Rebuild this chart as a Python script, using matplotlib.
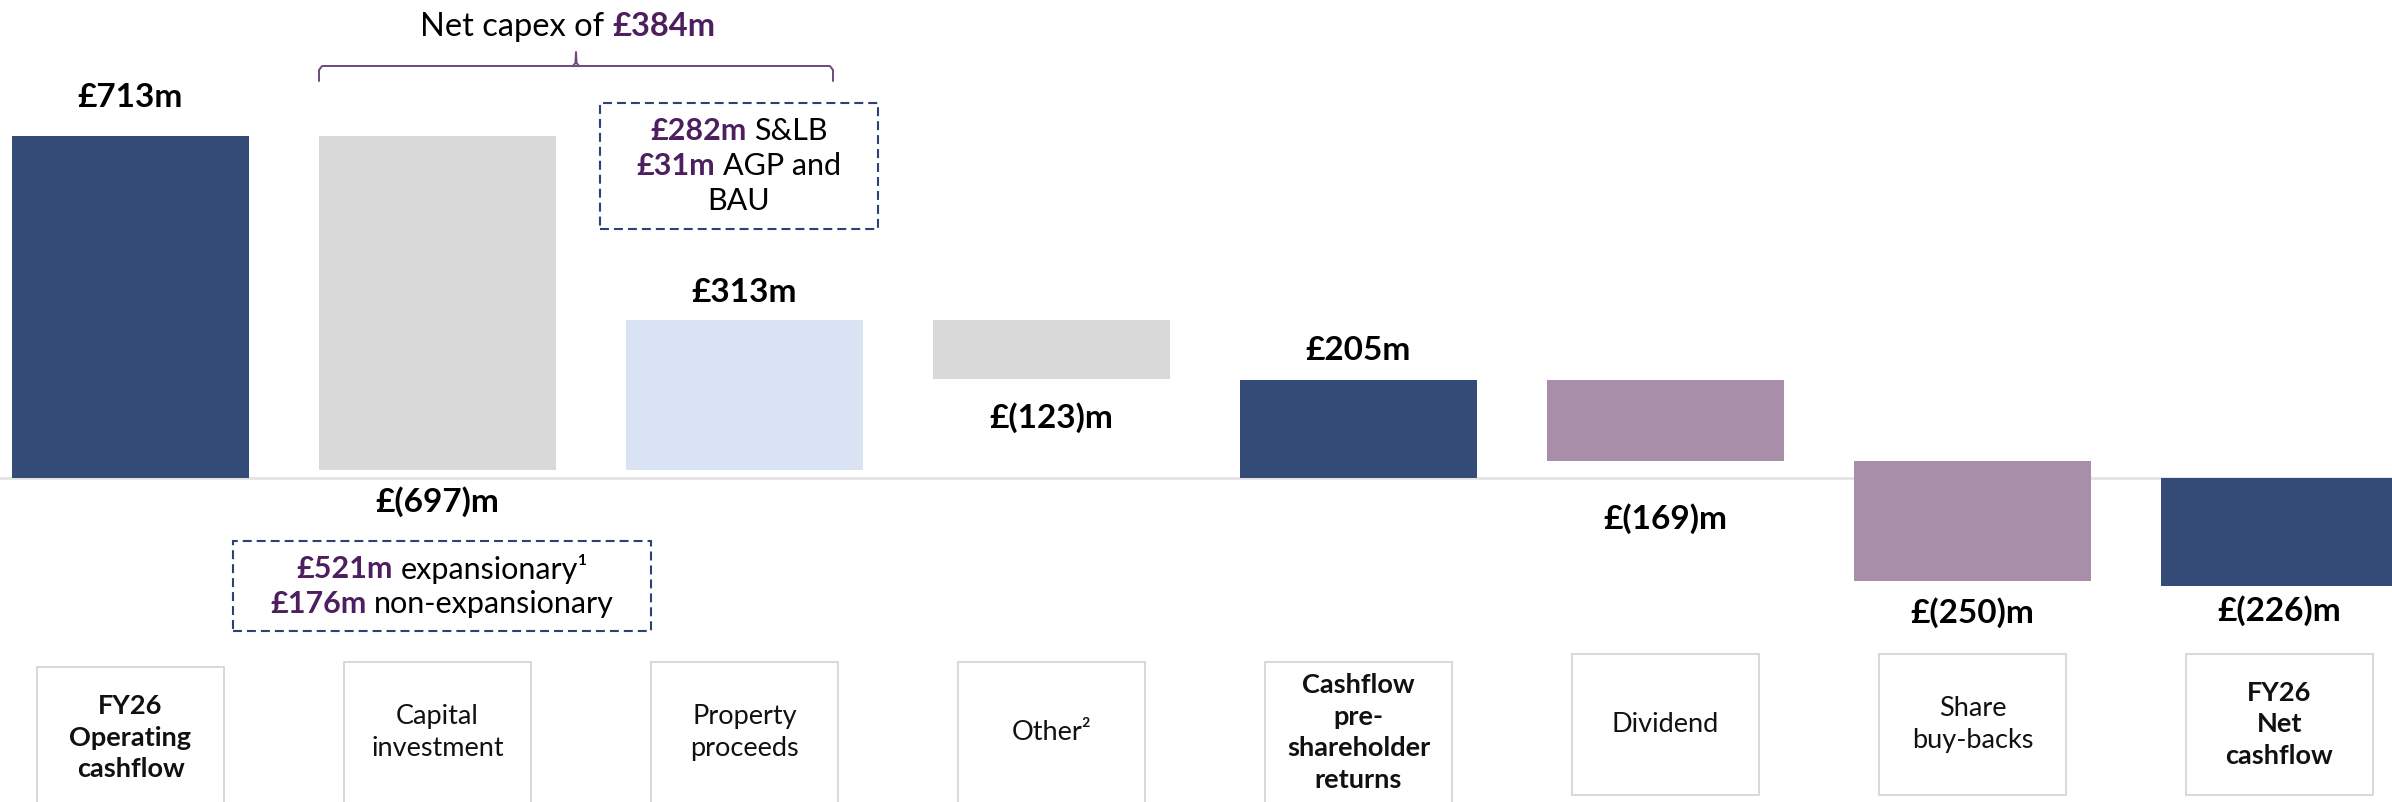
import numpy as np
import matplotlib
matplotlib.use("Agg")
import matplotlib.pyplot as plt
from matplotlib.patches import Rectangle
from matplotlib.transforms import IdentityTransform

plt.rcParams['font.family'] = ['Lato', 'DejaVu Sans']

# data
categories = ["FY26\nOperating\ncashflow", "Capital\ninvestment", "Property\nproceeds", "Other²",
              "Cashflow\npre-\nshareholder\nreturns", "Dividend", "Share\nbuy-backs", "FY26\nNet\ncashflow"]
values = [713, -697, 313, -123, 205, -169, -250, -226]
is_total = [True, False, False, False, True, False, False, True]
value_labels = ["£713m", "£(697)m", "£313m", "£(123)m", "£205m", "£(169)m", "£(250)m", "£(226)m"]
bold_cats = [True, False, False, False, True, False, False, True]

NAVY = "#344a77"
GREY = "#d9d9d9"
LBLUE = "#dae3f3"
MAUVE = "#a98eaa"
PURPLE = "#4d1f60"
bar_colors = [NAVY, GREY, LBLUE, GREY, NAVY, MAUVE, MAUVE, NAVY]

W, H = 2392, 802
fig = plt.figure(figsize=(W / 100, H / 100), dpi=100)
ax = fig.add_axes([0, 0, 1, 1])
ax.axis("off")

# pixel helpers (pixel measured from top-left)
ZERO_PX = 478
PX_PER_M = 0.4797
STEP = 307.0
X0 = 130.5
ax.set_xlim(-X0 / STEP, (W - X0) / STEP)
ax.set_ylim(-(H - ZERO_PX) / PX_PER_M, ZERO_PX / PX_PER_M)


def py(p):
    return (ZERO_PX - p) / PX_PER_M


def px(p):
    return (p - X0) / STEP


# waterfall
bottoms, heights = [], []
run = 0
for v, tot in zip(values, is_total):
    if tot:
        b, h = 0, v
        run = v
    else:
        b, h = run, v
        run = run + v
    bottoms.append(b)
    heights.append(h)

x = np.arange(len(values))
ax.axhline(0, color="#e3e3e3", lw=2, zorder=1)
ax.bar(x, heights, bottom=bottoms, width=0.772, color=bar_colors, zorder=2)

# value labels
label_pad = [38, 31, 28, 38, 29, 58, 32, 24]
for i in range(len(values)):
    lo = min(bottoms[i], bottoms[i] + heights[i])
    hi = max(bottoms[i], bottoms[i] + heights[i])
    if values[i] >= 0:
        yl = py(ZERO_PX - hi * PX_PER_M - label_pad[i])
    else:
        yl = py(ZERO_PX - lo * PX_PER_M + label_pad[i])
    ax.text(x[i], yl, value_labels[i], ha="center", va="center",
            fontsize=24, fontweight="bold", color="black", zorder=5)

# category boxes
box_tops = [667, 662, 662, 662, 662, 654, 654, 654]
box_h = 141
box_w = 187 / STEP
for i, cat in enumerate(categories):
    ax.add_patch(Rectangle((x[i] - box_w / 2, py(box_tops[i] + box_h)), box_w,
                           box_h / PX_PER_M, facecolor="white", edgecolor="#d6d6d6",
                           lw=1.3, zorder=3))
    ax.text(x[i], py(box_tops[i] + box_h / 2), cat, ha="center", va="center",
            fontsize=19.5, fontweight="bold" if bold_cats[i] else "normal",
            color="#111111", linespacing=1.38, zorder=4)

renderer = fig.canvas.get_renderer()


def rich_line(xc, yc, parts, size):
    ts = []
    for s, w, c in parts:
        ts.append(ax.text(0, 0, s, fontsize=size, fontweight=w, color=c,
                          ha="left", va="center", zorder=6))
    sp = ax.text(0, 0, "a a", fontsize=size)
    nsp = ax.text(0, 0, "aa", fontsize=size)
    space = sp.get_window_extent(renderer).width - nsp.get_window_extent(renderer).width
    sp.remove()
    nsp.remove()
    widths = [t.get_window_extent(renderer).width for t in ts]
    total = sum(widths) + space * (len(ts) - 1)
    X, Y = ax.transData.transform((xc, yc))
    cur = X - total / 2
    for t, w in zip(ts, widths):
        t.set_transform(IdentityTransform())
        t.set_position((cur, Y))
        cur += w + space


# net capex heading and brace
rich_line(px(568), py(27), [("Net capex of", "normal", "black"), ("£384m", "bold", PURPLE)], 23.5)
brace_c = "#6e4a7e"
bl, br, bm = px(319), px(833), px(576)
ax.plot([bl, bl, bl + 0.01, br - 0.01, br, br], [py(81), py(70), py(66), py(66), py(70), py(81)],
        color=brace_c, lw=1.4, solid_capstyle="round", zorder=6)
ax.plot([bm - 0.01, bm - 0.002, bm, bm + 0.002, bm + 0.01],
        [py(66), py(63), py(52), py(63), py(66)], color=brace_c, lw=1.4, zorder=6)

# dashed note boxes
dash = (0, (4.3, 2.4))
ax.add_patch(Rectangle((px(600), py(229)), px(878) - px(600), (229 - 103) / PX_PER_M,
                       fill=False, edgecolor="#2c4275", lw=1.5, linestyle=dash, zorder=6))
rich_line(px(739), py(131), [("£282m", "bold", PURPLE), ("S&LB", "normal", "black")], 22)
rich_line(px(739), py(166), [("£31m", "bold", PURPLE), ("AGP and", "normal", "black")], 22)
rich_line(px(739), py(201), [("BAU", "normal", "black")], 22)

ax.add_patch(Rectangle((px(233), py(631)), px(651) - px(233), (631 - 541) / PX_PER_M,
                       fill=False, edgecolor="#2c4275", lw=1.5, linestyle=dash, zorder=6))
rich_line(px(442), py(569), [("£521m", "bold", PURPLE), ("expansionary¹", "normal", "black")], 22)
rich_line(px(442), py(604), [("£176m", "bold", PURPLE), ("non-expansionary", "normal", "black")], 22)

fig.savefig("out.png", dpi=100)
